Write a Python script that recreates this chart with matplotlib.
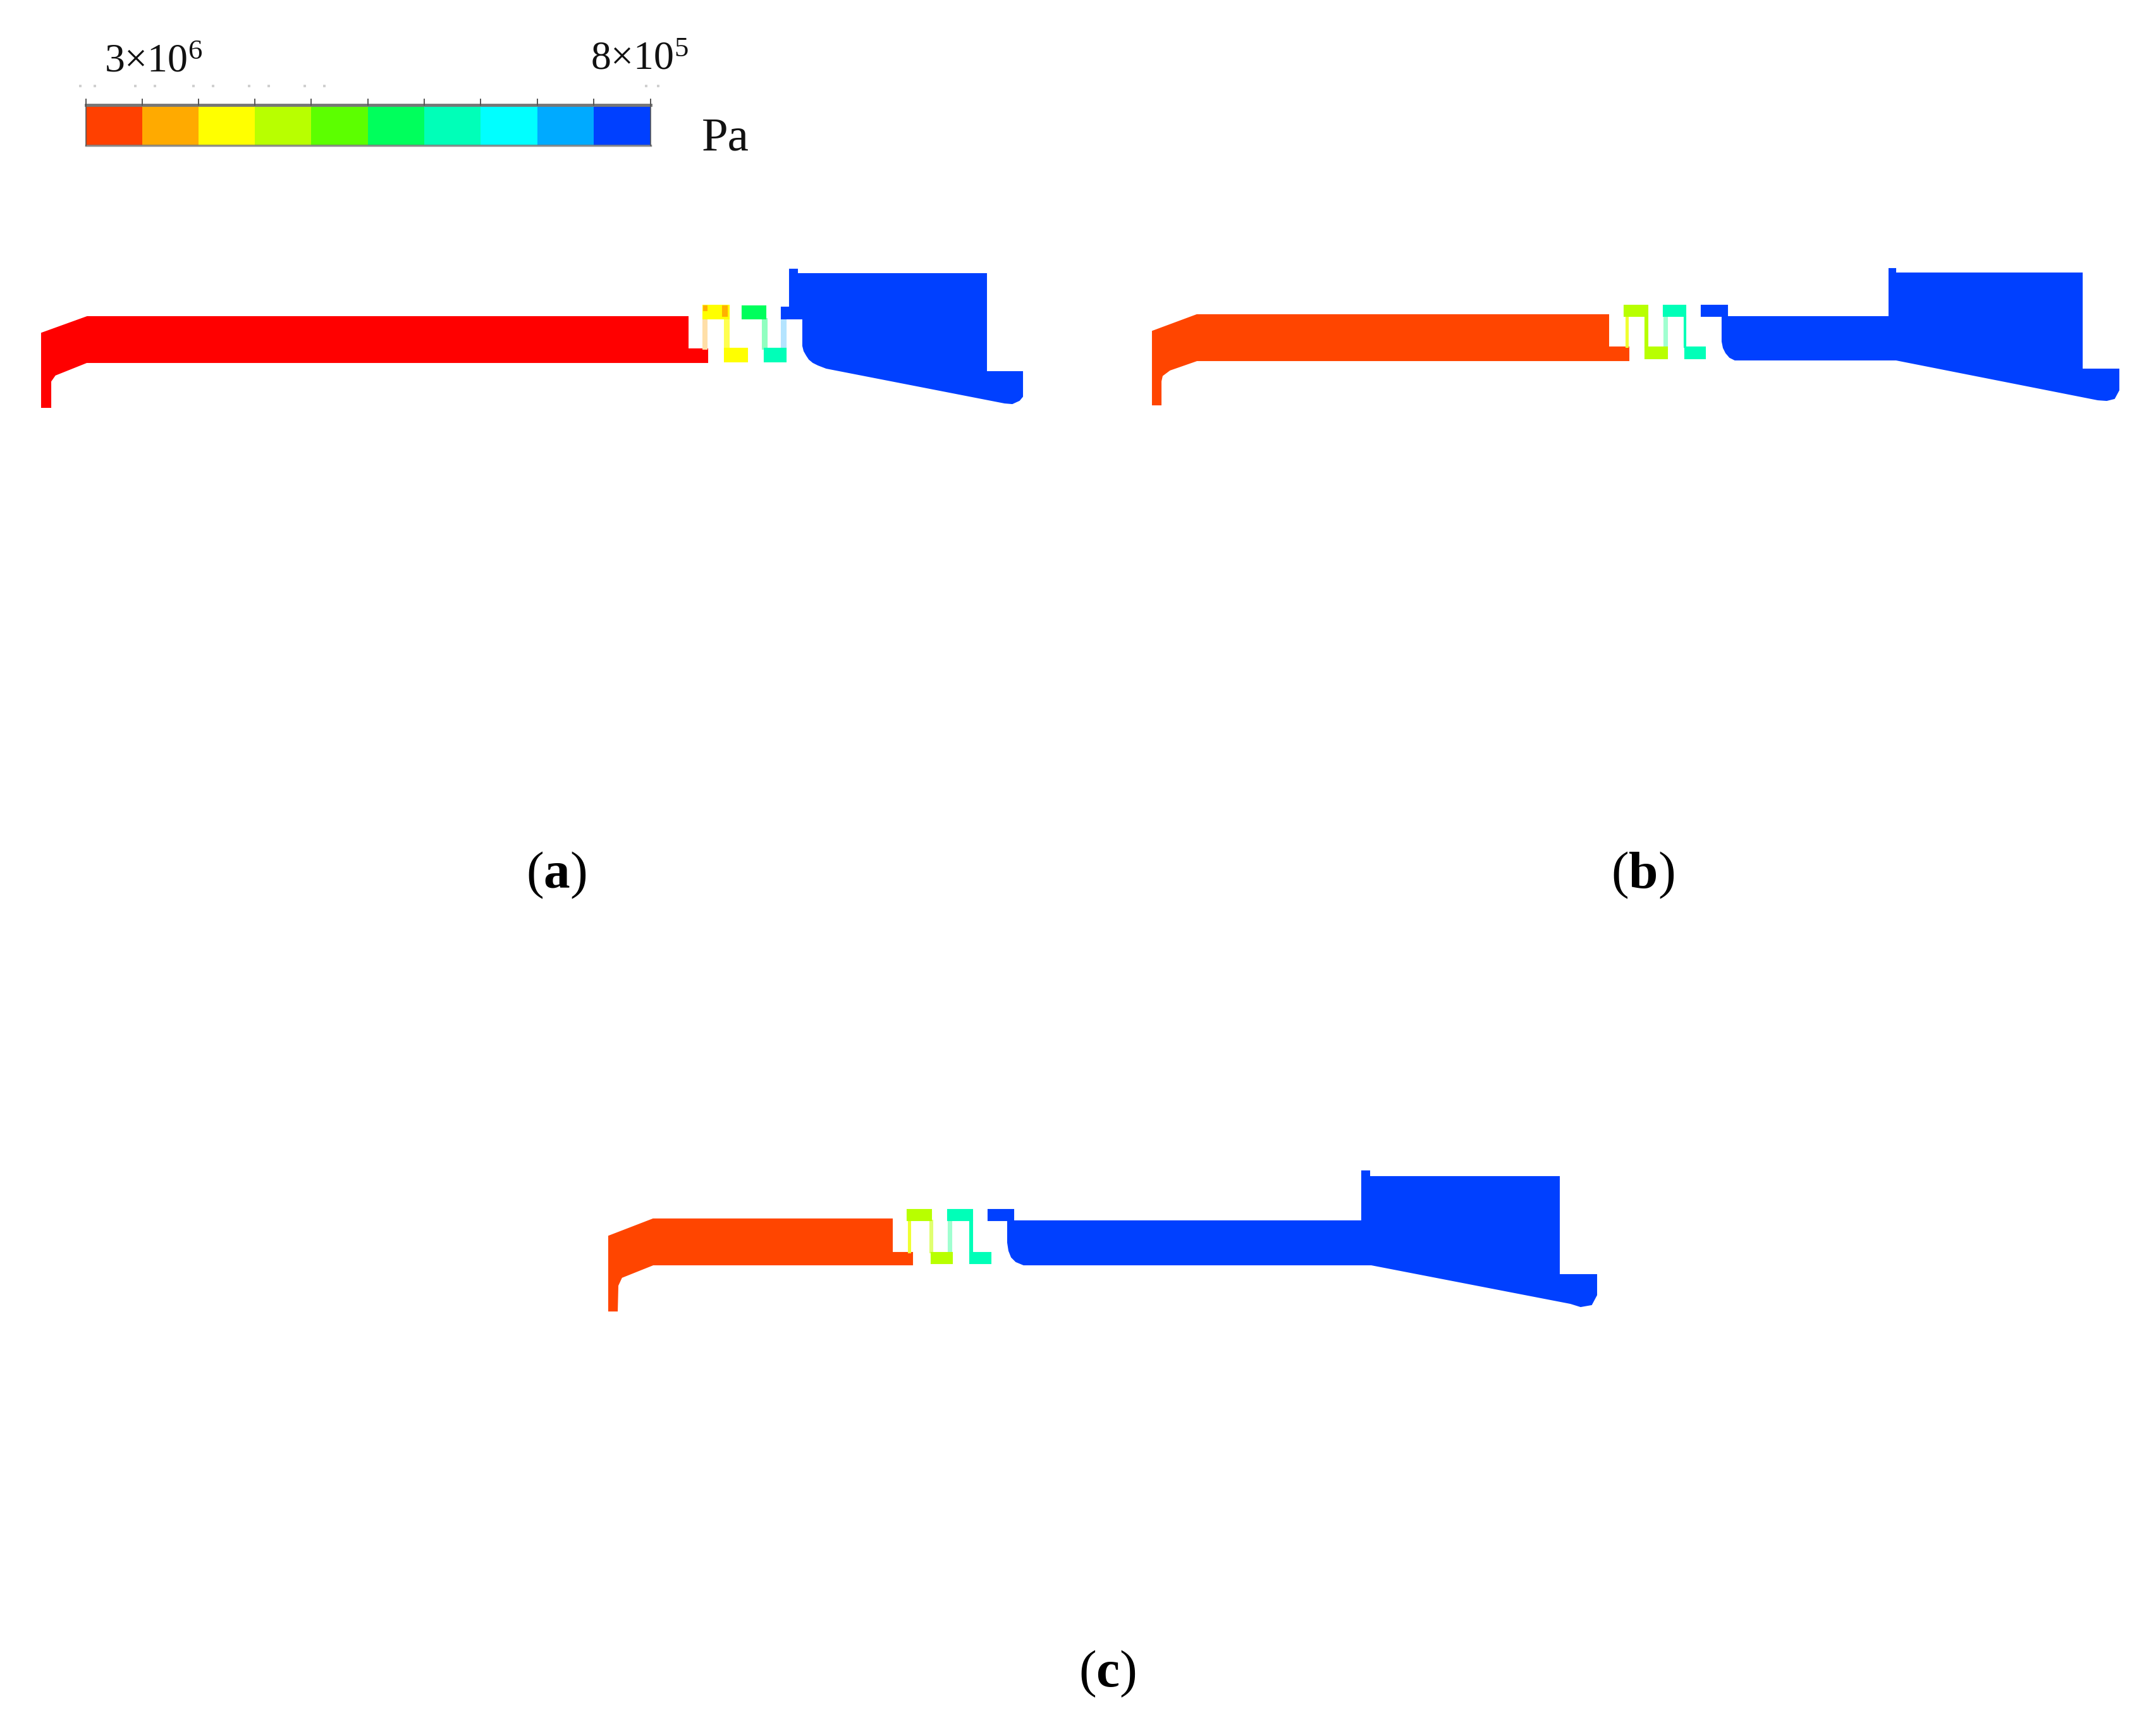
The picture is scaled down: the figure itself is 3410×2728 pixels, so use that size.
import matplotlib
matplotlib.use("Agg")
import matplotlib.pyplot as plt

plt.rcParams['font.family'] = ['Liberation Serif', 'DejaVu Serif']
plt.rcParams['mathtext.fontset'] = 'custom'
plt.rcParams['mathtext.rm'] = 'Liberation Serif'
plt.rcParams['mathtext.it'] = 'Liberation Serif'
plt.rcParams['mathtext.bf'] = 'Liberation Serif:bold'

# ---- colours / legend values ----
legend_colors = ['#ff4000', '#ffaa00', '#ffff00', '#b8ff00', '#5cff00',
                 '#00ff5c', '#00ffb8', '#00ffff', '#00aaff', '#0040ff']
legend_edges = [136, 225, 314, 403, 492, 582, 671, 760, 850, 939, 1029]
legend_y = (167, 230)
legend_dots_x = [127, 150, 214, 245, 306, 337, 394, 425, 482, 513, 1022, 1041]
RED, ORANGE, YEL, LIME, GRN, TEAL, BLUE = ('#ff0000', '#ff4500', '#ffff00', '#b8ff00',
                                           '#00ff5c', '#00ffb8', '#0040ff')

# ---- panel (a) ----
a_inlet = [(66, 644), (66, 527), (138, 501), (1088, 501), (1088, 552), (1119, 552),
           (1119, 573), (137, 573), (87, 593), (80, 603), (80, 644)]
a_blocks = [
    (YEL, [(1112, 483), (1153, 483), (1153, 504), (1112, 504)]),
    ('#ffb000', [(1113, 484), (1118, 484), (1118, 491), (1113, 491)]),
    ('#ffb000', [(1143, 484), (1150, 484), (1150, 500), (1143, 500)]),
    (YEL, [(1146, 551), (1182, 551), (1182, 572), (1146, 572)]),
    (GRN, [(1174, 484), (1211, 484), (1211, 504), (1174, 504)]),
    (TEAL, [(1209, 551), (1243, 551), (1243, 572), (1209, 572)]),
]
a_thin = [
    ('#ffdfa8', [(1112, 504), (1118, 504), (1118, 552), (1112, 552)]),
    ('#ffff50', [(1146, 504), (1153, 504), (1153, 552), (1146, 552)]),
    ('#90ffc0', [(1206, 504), (1213, 504), (1213, 552), (1206, 552)]),
    ('#b4e4ff', [(1236, 504), (1243, 504), (1243, 552), (1236, 552)]),
]
a_outlet = [(1236, 486), (1249, 486), (1249, 426), (1261, 426), (1261, 433), (1560, 433),
            (1560, 588), (1617, 588), (1617, 627), (1612, 633), (1601, 638), (1589, 637),
            (1307, 582), (1294, 577), (1286, 573), (1280, 568), (1276, 562), (1272, 555),
            (1270, 547), (1270, 504), (1236, 504)]

# ---- panel (b) ----
b_inlet = [(1823, 640), (1823, 524), (1893, 498), (2544, 498), (2544, 549), (2576, 549),
           (2576, 570), (1893, 570), (1850, 585), (1838, 594), (1836, 603), (1836, 640)]
b_blocks = [
    (LIME, [(2569, 483), (2606, 483), (2606, 500), (2569, 500)]),
    (LIME, [(2602, 549), (2637, 549), (2637, 567), (2602, 567)]),
    (TEAL, [(2631, 483), (2666, 483), (2666, 500), (2631, 500)]),
    (TEAL, [(2665, 549), (2697, 549), (2697, 567), (2665, 567)]),
]
b_thin = [
    ('#f0ff30', [(2572, 500), (2575, 500), (2575, 549), (2572, 549)]),
    (LIME, [(2602, 500), (2606, 500), (2606, 549), (2602, 549)]),
    ('#a0ffd0', [(2632, 500), (2637, 500), (2637, 549), (2632, 549)]),
    (TEAL, [(2664, 500), (2666, 500), (2666, 549), (2664, 549)]),
]
b_outlet = [(2691, 483), (2732, 483), (2732, 501), (2988, 501), (2988, 425), (2998, 425),
            (2998, 432), (3293, 432), (3293, 584), (3351, 584), (3351, 617), (3344, 630),
            (3332, 633), (3318, 632), (2999, 569), (2744, 569), (2736, 565), (2730, 558),
            (2726, 550), (2724, 540), (2724, 500), (2691, 500)]

# ---- panel (c) ----
c_inlet = [(963, 2073), (963, 1955), (1033, 1928), (1411, 1928), (1411, 1981), (1443, 1981),
           (1443, 2000), (1033, 2000), (983, 2020), (977, 2033), (976, 2073)]
c_blocks = [
    (LIME, [(1435, 1913), (1473, 1913), (1473, 1930), (1435, 1930)]),
    (LIME, [(1473, 1981), (1506, 1981), (1506, 1998), (1473, 1998)]),
    (TEAL, [(1499, 1913), (1538, 1913), (1538, 1930), (1499, 1930)]),
    (TEAL, [(1534, 1981), (1567, 1981), (1567, 1998), (1534, 1998)]),
]
c_thin = [
    ('#f0ff30', [(1437, 1930), (1440, 1930), (1440, 1981), (1437, 1981)]),
    ('#e0ff70', [(1471, 1930), (1475, 1930), (1475, 1981), (1471, 1981)]),
    ('#a0ffd0', [(1500, 1930), (1505, 1930), (1505, 1981), (1500, 1981)]),
    (TEAL, [(1534, 1930), (1538, 1930), (1538, 1981), (1534, 1981)]),
]
c_outlet = [(1563, 1913), (1603, 1913), (1603, 1931), (2154, 1931), (2154, 1852), (2166, 1852),
            (2166, 1861), (2466, 1861), (2466, 2016), (2525, 2016), (2525, 2048), (2517, 2063),
            (2500, 2066), (2484, 2061), (2169, 2000), (1619, 2000), (1607, 1995), (1600, 1988),
            (1596, 1978), (1594, 1965), (1594, 1930), (1563, 1930)]

panels = [(RED, a_inlet, a_blocks, a_thin, a_outlet),
          (ORANGE, b_inlet, b_blocks, b_thin, b_outlet),
          (ORANGE, c_inlet, c_blocks, c_thin, c_outlet)]

panel_labels = [('a', 880, 1384), ('b', 2598, 1384), ('c', 1751, 2647)]

W, H = 3410, 2728
fig = plt.figure(figsize=(W / 100, H / 100), dpi=100, facecolor='white')
ax = fig.add_axes([0, 0, 1, 1])
ax.set_xlim(0, W)
ax.set_ylim(H, 0)
ax.axis('off')

def poly(pts, color, z=2):
    xs, ys = zip(*pts)
    ax.fill(xs, ys, color=color, lw=1.5, zorder=z)

for in_color, inlet, blocks, thin, outlet in panels:
    poly(inlet, in_color)
    for c, pts in thin:
        poly(pts, c, 2)
    for c, pts in blocks:
        poly(pts, c, 3)
    poly(outlet, BLUE, 2)

# legend bar
y0, y1 = legend_y
for c, l, r in zip(legend_colors, legend_edges[:-1], legend_edges[1:]):
    ax.fill([l, r, r, l], [y0, y0, y1, y1], color=c, lw=0, zorder=2)
ax.plot([legend_edges[0], legend_edges[-1]], [y0 - 1, y0 - 1], color='#777777', lw=3.5, zorder=3)
ax.plot([legend_edges[0], legend_edges[-1]], [y1, y1], color='#777777', lw=2.5, alpha=.8, zorder=3)
ax.plot([legend_edges[0], legend_edges[0]], [y0, y1], color='#555555', lw=1.2, zorder=3)
ax.plot([legend_edges[-1], legend_edges[-1]], [y0, y1], color='#555555', lw=1.2, zorder=3)
ax.vlines(legend_edges, 156, y0, color='#555555', lw=1.4, zorder=3)
ax.scatter(legend_dots_x, [136] * len(legend_dots_x), s=6, marker='s', color='#d0d0d0', lw=0)

ax.text(165, 114, r'$\mathrm{3{\times}10^{6}}$', fontsize=46, ha='left', va='baseline', color='#111111')
ax.text(934, 110, r'$\mathrm{8{\times}10^{5}}$', fontsize=46, ha='left', va='baseline', color='#111111')
ax.text(1110, 238, 'Pa', fontsize=54, ha='left', va='baseline', color='#111111')

for letter, x, y in panel_labels:
    ax.text(x, y, '(' + r'$\mathbf{' + letter + '}$' + ')', fontsize=60,
            ha='center', va='center', color='black')

fig.savefig('out.png', dpi=100, facecolor='white')
